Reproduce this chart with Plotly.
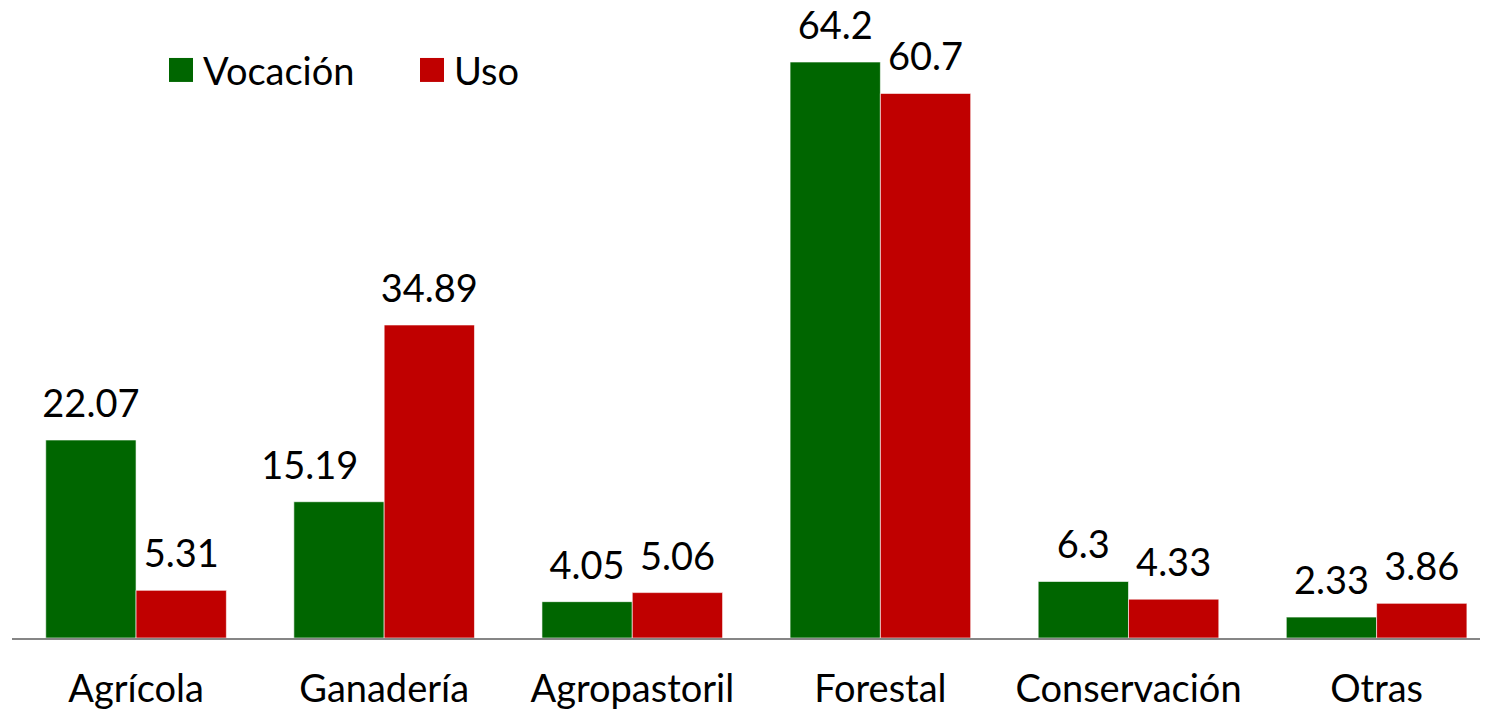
import plotly.graph_objects as go

categories = ["Agrícola", "Ganadería", "Agropastoril", "Forestal", "Conservación", "Otras"]
vocacion = [22.07, 15.19, 4.05, 64.2, 6.3, 2.33]
uso = [5.31, 34.89, 5.06, 60.7, 4.33, 3.86]
series_names = ["Vocación", "Uso"]
colors = ["#006600", "#C00000"]

FONT = "Lato"
FS = 38
NBSP = "&nbsp;"


def label_texts(vals, right_neighbour):
    out = []
    for i, v in enumerate(vals):
        t = f"{v:g}"
        # label of a short bar with a much taller bar on its right is nudged left (as in the original)
        if right_neighbour is not None and right_neighbour[i] > v * 2 and right_neighbour[i] > 20:
            t = t + NBSP * 6
        out.append(t)
    return out


fig = go.Figure()
for name, vals, col, og in zip(series_names, [vocacion, uso], colors, ["a", "b"]):
    fig.add_trace(go.Bar(
        x=categories, y=vals, name=name, offsetgroup=og,
        marker=dict(color=col, line=dict(color="rgba(255,255,255,0.6)", width=1)),
        showlegend=False, hoverinfo="x+y+name",
    ))
for name, vals, nb, og in zip(series_names, [vocacion, uso], [uso, None], ["a", "b"]):
    fig.add_trace(go.Scatter(
        x=categories, y=vals, name=name, offsetgroup=og,
        mode="markers+text", marker=dict(size=20, opacity=0),
        text=label_texts(vals, nb), textposition="top center",
        textfont=dict(family=FONT, size=FS, color="#000000"),
        cliponaxis=False, showlegend=False, hoverinfo="skip",
    ))

# page body has an 8px margin, so the figure is sized to fill the rest of the window
fig.update_layout(
    width=1480, height=707,
    margin=dict(l=4, r=0, t=2, b=76.5),
    paper_bgcolor="white", plot_bgcolor="white",
    barmode="group", bargap=0.272, bargroupgap=0,
    scattermode="group", scattergap=0.272,
    showlegend=False,
    font=dict(family=FONT, color="#000000"),
    xaxis=dict(range=[-0.5, 5.449], showline=True, linecolor="#868686", linewidth=2,
               showgrid=False, ticks="", tickfont=dict(family=FONT, size=FS, color="#000000"),
               ticklabelstandoff=16),
    yaxis=dict(range=[0, 70], visible=False, showgrid=False, zeroline=False),
)

# legend drawn as squares + labels (screen px -> paper coords)
PW, PH, PX0, PY0 = 1476, 628.5, 12, 10
leg_y = 70
for (x0, label, col) in [(181, series_names[0], colors[0]), (432, series_names[1], colors[1])]:
    fig.add_shape(type="rect", xref="paper", yref="paper",
                  x0=(x0 - 12 - PX0) / PW, x1=(x0 + 12 - PX0) / PW,
                  y0=1 - (leg_y + 12 - PY0) / PH, y1=1 - (leg_y - 12 - PY0) / PH,
                  fillcolor=col, line=dict(width=0))
    fig.add_annotation(xref="paper", yref="paper", x=(x0 + 20 - PX0) / PW, y=1 - (leg_y - PY0) / PH,
                       text=label, showarrow=False, xanchor="left", yanchor="middle",
                       font=dict(family=FONT, size=FS, color="#000000"))

fig.write_html("out.html")
